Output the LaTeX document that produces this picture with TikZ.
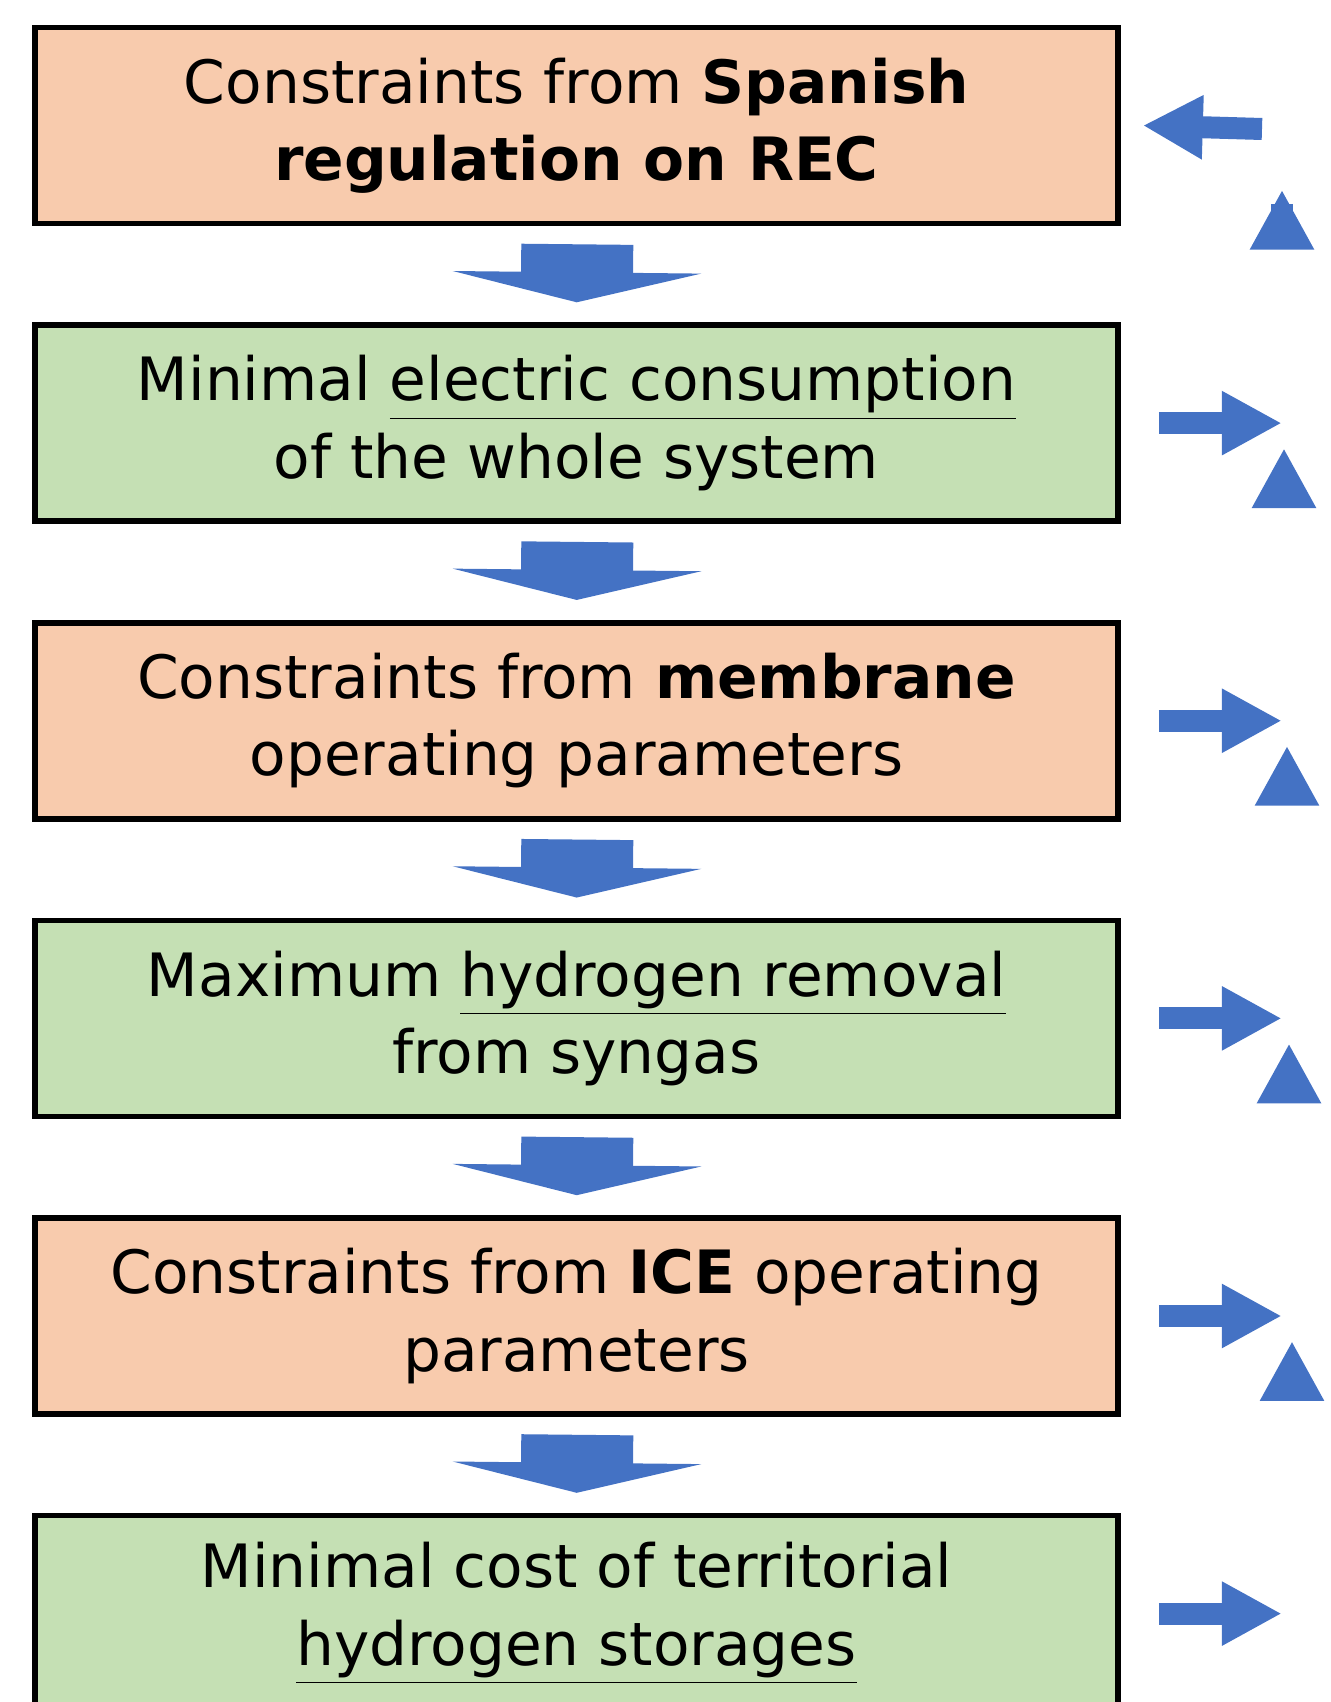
\documentclass[tikz,border=0pt]{standalone}
\usepackage{fontspec}
\setmainfont{DejaVu Sans}
\usetikzlibrary{arrows.meta,positioning}
\definecolor{peach}{RGB}{248,203,173}
\definecolor{sage}{RGB}{197,224,180}
\definecolor{arrowblue}{RGB}{68,114,196}
\tikzset{
    step-box/.style = {draw=black, line width=1.6pt, minimum width=10.83cm, minimum height=1.96cm, align=center, font=\fontsize{17}{22}\selectfont},
    fat-arrow/.style = {arrowblue, line width=1.12cm, -{Triangle[width=2.48cm,length=0.3cm]}},
    thin-arrow/.style = {arrowblue, line width=0.22cm, -{Triangle[width=0.6cm,length=0.6cm]}},
}
\begin{document}
\begin{tikzpicture}
\useasboundingbox (0,0) rectangle (13.31,17.02);
\node[step-box, fill=peach] (regulation) at (5.765,15.765) {Constraints from \textbf{Spanish}\\\textbf{regulation on REC}};
\node[step-box, fill=sage, below=0.96cm of regulation] (electric) {Minimal \underline{electric consumption}\\of the whole system};
\node[step-box, fill=peach, below=0.96cm of electric] (membrane) {Constraints from \textbf{membrane}\\operating parameters};
\node[step-box, fill=sage, below=0.96cm of membrane] (hydrogen) {Maximum \underline{hydrogen removal}\\from syngas};
\node[step-box, fill=peach, below=0.96cm of hydrogen] (ice) {Constraints from \textbf{ICE} operating\\parameters};
\node[step-box, fill=sage, below=0.96cm of ice] (storage) {Minimal cost of territorial\\\underline{hydrogen storages}};
% downward flow
\foreach \a/\b in {regulation/electric, electric/membrane, membrane/hydrogen, hydrogen/ice, ice/storage}
    \draw[fat-arrow, shorten <=0.18cm, shorten >=0.2cm] (\a.south) ++(0.01,0) -- (\b.north);
% feedback loop
\coordinate (f1) at (12.82,14.98);
\coordinate (f2) at (12.84,12.07);
\coordinate (f3) at (12.87,9.12);
\coordinate (f4) at (12.89,6.19);
\coordinate (f5) at (12.92,3.28);
\foreach \n in {f1,f2,f3,f4,f5}
    \coordinate (\n-top) at ([yshift=-0.6cm]\n);
\foreach \b/\n in {electric/f1, membrane/f2, hydrogen/f3, ice/f4, storage/f5}
    \draw[thin-arrow] ([xshift=0.38cm]\b.east) -- ++(1.23,0) coordinate (\n-in);
\draw[thin-arrow] (f1) -- ([yshift=-1.65cm]regulation.north -| f1);
\draw[thin-arrow] (f2) -- ([yshift=-0.25cm]f1-in -| f2);
\draw[thin-arrow] (f3) -- ([yshift=-0.25cm]f2-in -| f3);
\draw[thin-arrow] (f4) -- ([yshift=-0.25cm]f3-in -| f4);
\draw[thin-arrow] (f5) -- ([yshift=-0.25cm]f4-in -| f5);
\coordinate (back) at (12.62,15.73);
\draw[thin-arrow] (back) -- ([xshift=0.22cm]regulation.east);
\end{tikzpicture}
\end{document}
